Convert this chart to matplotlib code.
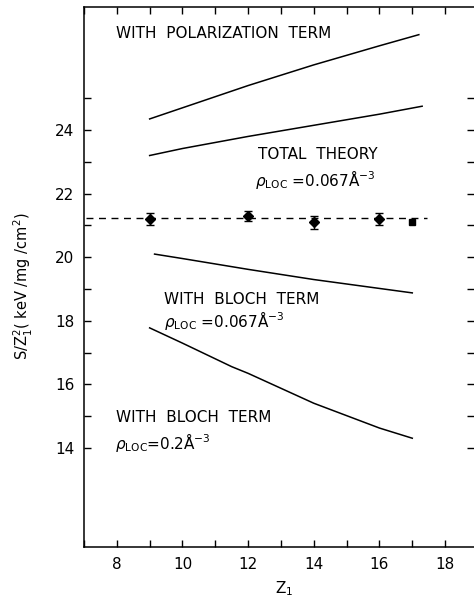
import matplotlib
matplotlib.use('Agg')
import matplotlib.pyplot as plt
import numpy as np

# measured points (Z1, S/Z1^2, error)
z_meas = [9, 12, 14, 16]
s_meas = [21.2, 21.3, 21.1, 21.2]
s_err = [0.2, 0.17, 0.2, 0.2]
z_sq = [17]
s_sq = [21.1]
level = 21.22

# theory curves
z_pol = [9, 10, 12, 14, 16, 17.2]
s_pol = [24.35, 24.7, 25.4, 26.05, 26.65, 27.0]
z_tot = [9, 10, 12, 14, 16, 17.3]
s_tot = [23.2, 23.42, 23.8, 24.15, 24.5, 24.75]
z_b067 = [9.15, 10, 12, 14, 16, 17.0]
s_b067 = [20.1, 19.96, 19.62, 19.3, 19.02, 18.88]
z_b2 = [9, 10, 11.5, 12, 14, 16, 17.0]
s_b2 = [17.78, 17.3, 16.56, 16.35, 15.41, 14.63, 14.31]

xticks = list(range(7, 19))
yticks = list(range(14, 26))

plt.rcParams['font.family'] = ['DejaVu Sans']
plt.rcParams['mathtext.fontset'] = 'dejavusans'

fig = plt.figure(figsize=(4.74, 5.98), dpi=100)
ax = fig.add_axes([0.1772, 0.0853, 0.8228, 0.903])

lw = 1.1
ax.plot(z_pol, s_pol, color='black', lw=lw)
ax.plot(z_tot, s_tot, color='black', lw=lw)
ax.plot(z_b067, s_b067, color='black', lw=lw)
ax.plot(z_b2, s_b2, color='black', lw=lw)

ax.plot([7.06, 17.46], [level, level], color='black', lw=1.0, dashes=(5, 4))
ax.errorbar(z_meas, s_meas, yerr=s_err, fmt='D', color='black', ms=5.5,
            capsize=3, elinewidth=1.0, capthick=1.0)
ax.plot(z_sq, s_sq, 's', color='black', ms=5)

ax.set_xlim(7.06, 18.88)
ax.set_ylim(10.89, 27.87)

ax.set_xticks(xticks)
ax.set_xticklabels([str(t) if t % 2 == 0 and t >= 8 else '' for t in xticks])
ax.set_yticks(yticks)
ax.set_yticklabels([str(t) if t % 2 == 0 else '' for t in yticks])
ax.tick_params(direction='in', length=5, width=1.0, top=True, right=True,
               labelsize=11, pad=7)
ax.spines['right'].set_visible(False)
for s in ['left', 'bottom', 'top']:
    ax.spines[s].set_linewidth(1.1)

ax.set_ylabel(r'S/Z$_{\rm 1}^{\rm 2}$( keV /mg /cm$^{\rm 2}$)', fontsize=10.5)
ax.yaxis.set_label_coords(-0.125, 0.483)
ax.set_xlabel(r'Z$_{\rm 1}$', fontsize=11)
ax.xaxis.set_label_coords(0.513, -0.06)

fs = 11
ax.text(7.98, 27.05, 'WITH  POLARIZATION  TERM', fontsize=fs, va='center')
ax.text(12.3, 23.22, 'TOTAL  THEORY', fontsize=fs, va='center')
ax.text(12.2, 22.45, r'$\rho_{\rm LOC}$ =0.067Å$^{-3}$', fontsize=fs, va='center')
ax.text(9.45, 18.68, 'WITH  BLOCH  TERM', fontsize=fs, va='center')
ax.text(9.45, 18.0, r'$\rho_{\rm LOC}$ =0.067Å$^{-3}$', fontsize=fs, va='center')
ax.text(7.98, 14.97, 'WITH  BLOCH  TERM', fontsize=fs, va='center')
ax.text(7.93, 14.17, r'$\rho_{\rm LOC}$=0.2Å$^{-3}$', fontsize=fs, va='center')

fig.savefig('out.png', dpi=100)
